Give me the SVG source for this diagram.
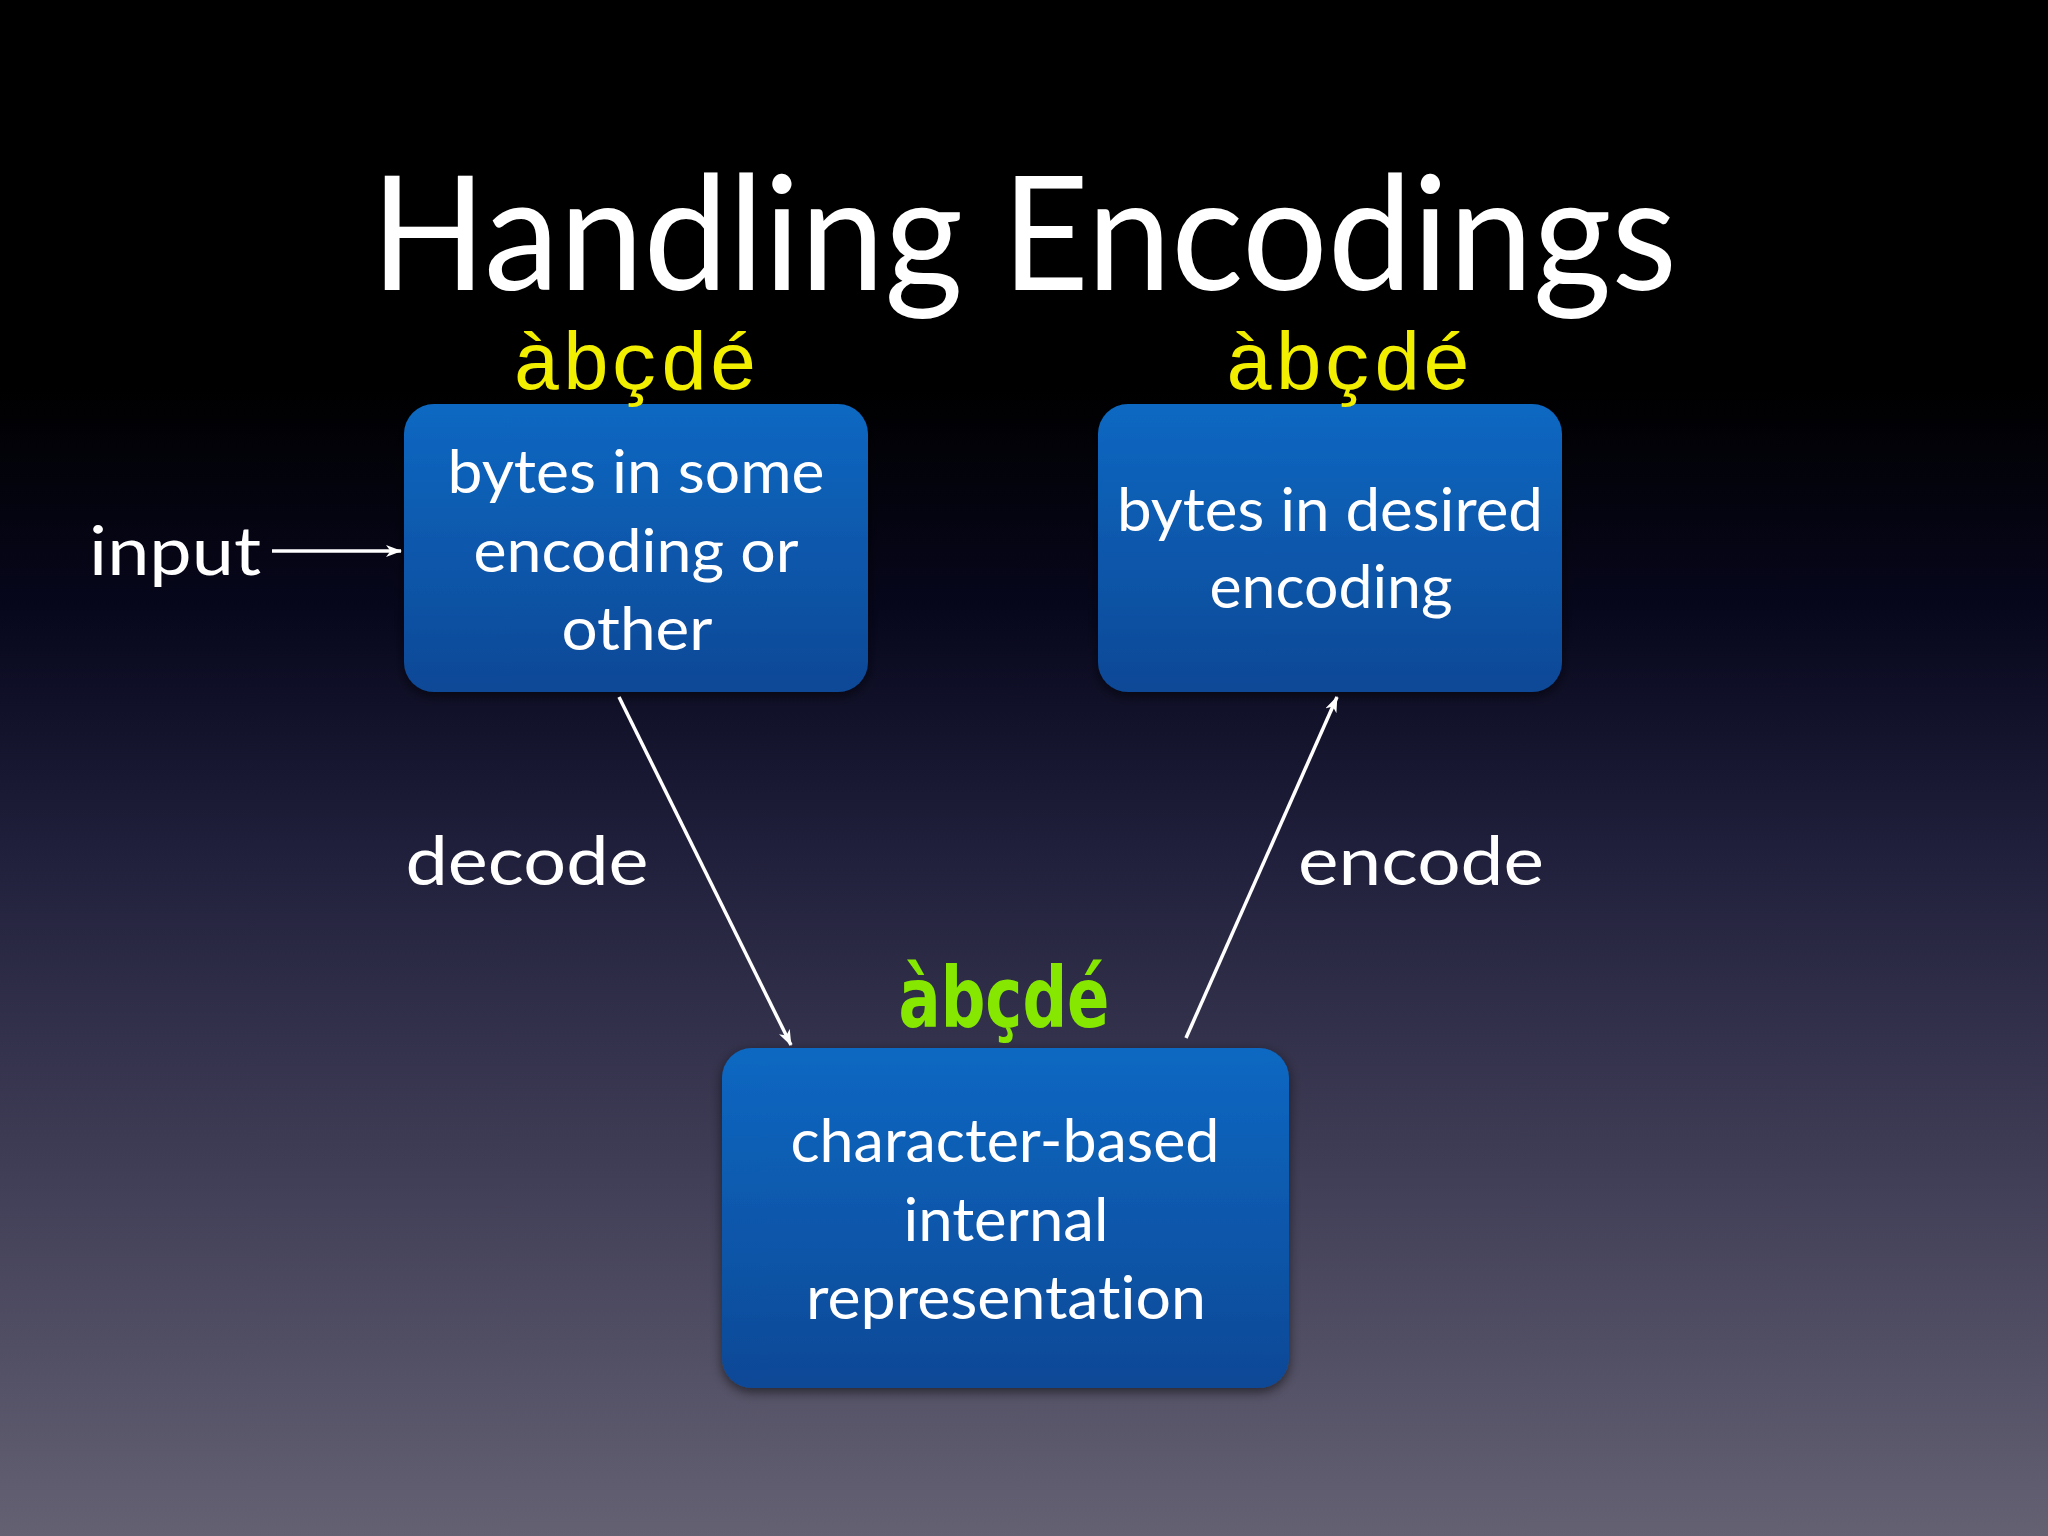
<svg xmlns="http://www.w3.org/2000/svg" width="2048" height="1536" viewBox="0 0 2048 1536">
  <defs>
    <linearGradient id="bg" x1="0" y1="0" x2="0" y2="1">
      <stop offset="0" stop-color="#000000"/>
      <stop offset="0.25" stop-color="#000000"/>
      <stop offset="0.4" stop-color="#07071d"/>
      <stop offset="0.55" stop-color="#201f3b"/>
      <stop offset="0.75" stop-color="#3e3c55"/>
      <stop offset="1" stop-color="#646173"/>
    </linearGradient>
    <linearGradient id="box" x1="0" y1="0" x2="0" y2="1">
      <stop offset="0" stop-color="#0a68c2"/>
      <stop offset="1" stop-color="#0b4896"/>
    </linearGradient>
    <filter id="shadow" x="-10%" y="-10%" width="120%" height="125%">
      <feDropShadow dx="0" dy="4" stdDeviation="6" flood-color="#000000" flood-opacity="0.55"/>
    </filter>
    <marker id="arrow" viewBox="0 0 16 12" refX="15" refY="6" markerWidth="16" markerHeight="12" markerUnits="userSpaceOnUse" orient="auto">
      <path d="M0,0 L16,6 L0,12 L4.5,6 z" fill="#ffffff"/>
    </marker>
  </defs>
  <style>
    .node rect { fill: url(#box); filter: url(#shadow); }
    .lbl { font-family: Lato, "Open Sans", "Liberation Sans", sans-serif; fill: #ffffff; text-anchor: middle; font-variant-ligatures: none; }
    .boxt { font-size: 60px; }
    .mono { font-family: "Courier New", Courier, "Nimbus Mono PS", FreeMono, "Liberation Mono", monospace; font-size: 82px; fill: #f2ee00; text-anchor: middle; }
    .green { font-family: "Liberation Sans Narrow", "DejaVu Sans Condensed", "Liberation Sans", sans-serif; font-weight: bold; font-size: 84px; fill: #86e800; text-anchor: middle; }
    .conn line { stroke: #ffffff; stroke-width: 3.5; fill: none; marker-end: url(#arrow); }
  </style>
  <rect x="0" y="0" width="2048" height="1536" fill="url(#bg)"/>

  <text id="title" class="lbl" x="1024" y="290" font-size="160" textLength="1306" lengthAdjust="spacingAndGlyphs">Handling Encodings</text>

  <g id="input-label">
    <text class="lbl" x="175" y="575" font-size="68" textLength="172" lengthAdjust="spacingAndGlyphs">input</text>
  </g>

  <g id="node-source" class="node">
    <rect x="404" y="404" width="464" height="288" rx="30" ry="30"/>
    <text class="mono" x="635" y="389" textLength="245" lengthAdjust="spacingAndGlyphs">àbçdé</text>
    <text class="lbl boxt" x="636" y="493" textLength="377" lengthAdjust="spacingAndGlyphs">bytes in some</text>
    <text class="lbl boxt" x="636" y="572" textLength="325" lengthAdjust="spacingAndGlyphs">encoding or</text>
    <text class="lbl boxt" x="637" y="650" textLength="151" lengthAdjust="spacingAndGlyphs">other</text>
  </g>

  <g id="node-target" class="node">
    <rect x="1098" y="404" width="464" height="288" rx="30" ry="30"/>
    <text class="mono" x="1348" y="389" textLength="246" lengthAdjust="spacingAndGlyphs">àbçdé</text>
    <text class="lbl boxt" x="1330" y="531" textLength="426" lengthAdjust="spacingAndGlyphs">bytes in desired</text>
    <text class="lbl boxt" x="1331" y="608" textLength="243" lengthAdjust="spacingAndGlyphs">encoding</text>
  </g>

  <g id="node-internal" class="node">
    <rect x="722" y="1048" width="567" height="340" rx="30" ry="30"/>
    <text class="green" x="1004" y="1027" textLength="211" lengthAdjust="spacingAndGlyphs">àbçdé</text>
    <text class="lbl boxt" x="1005" y="1162" textLength="429" lengthAdjust="spacingAndGlyphs">character-based</text>
    <text class="lbl boxt" x="1006" y="1241" textLength="205" lengthAdjust="spacingAndGlyphs">internal</text>
    <text class="lbl boxt" x="1006" y="1319" textLength="400" lengthAdjust="spacingAndGlyphs">representation</text>
  </g>

  <g id="connectors" class="conn">
    <line x1="272" y1="551" x2="401" y2="551"/>
    <line x1="619" y1="697" x2="791" y2="1045"/>
    <line x1="1186" y1="1038" x2="1337" y2="697"/>
  </g>

  <g id="edge-labels">
    <text class="lbl" x="527" y="885" font-size="68" textLength="243" lengthAdjust="spacingAndGlyphs">decode</text>
    <text class="lbl" x="1421" y="885" font-size="68" textLength="246" lengthAdjust="spacingAndGlyphs">encode</text>
  </g>
</svg>
